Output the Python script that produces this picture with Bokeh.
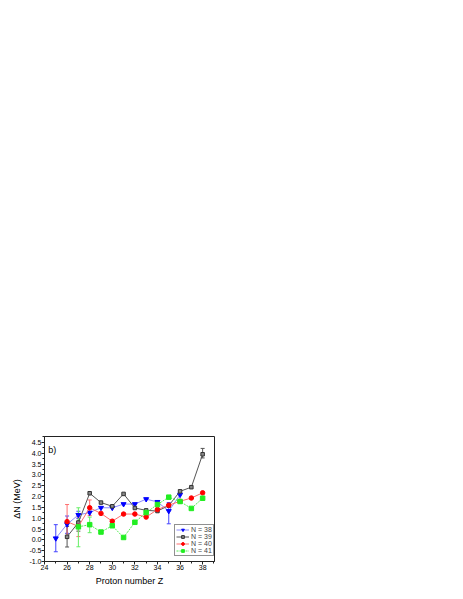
from bokeh.plotting import figure
from bokeh.models import (ColumnDataSource, Whisker, TeeHead, Label, Legend, LegendItem,
                          Range1d, FixedTicker, PrintfTickFormatter)
from bokeh.embed import file_html
from bokeh.resources import INLINE

# ---- data ----
Z38 = [25, 26, 27, 28, 29, 30, 31, 32, 33, 34, 35, 36]
D38 = [0.07, 0.72, 1.15, 1.26, 1.48, 1.48, 1.65, 1.65, 1.88, 1.75, 1.33, 2.08]
Z39 = [26, 27, 28, 29, 30, 31, 32, 33, 34, 35, 36, 37, 38]
D39 = [0.14, 0.80, 2.15, 1.72, 1.55, 2.12, 1.47, 1.36, 1.33, 1.58, 2.24, 2.43, 3.95]
Z40 = [26, 27, 28, 29, 30, 31, 32, 33, 34, 35, 36, 37, 38]
D40 = [0.84, 0.62, 1.48, 1.22, 0.86, 1.19, 1.19, 1.05, 1.40, 1.60, 1.78, 1.93, 2.17]
Z41 = [27, 28, 29, 30, 31, 32, 33, 34, 35, 36, 37, 38]
D41 = [0.60, 0.70, 0.36, 0.65, 0.11, 0.81, 1.26, 1.63, 1.97, 1.77, 1.45, 1.92]

# error bars (Z, lower, upper)
E38_Z = [25, 26, 27, 35]
E38_L = [-0.55, 0.30, 0.98, 0.74]
E38_U = [0.70, 1.10, 1.32, 1.72]
E39_Z = [26, 27, 38]
E39_L = [-0.33, 0.40, 3.78]
E39_U = [0.62, 1.15, 4.22]
E40_Z = [26, 27, 28]
E40_L = [0.07, 0.15, 1.12]
E40_U = [1.63, 1.05, 1.84]
E41_Z = [27, 28]
E41_L = [-0.32, 0.33]
E41_U = [1.48, 1.05]

LABELS = ["N = 38", "N = 39", "N = 40", "N = 41"]
X_TICKS = [24, 26, 28, 30, 32, 34, 36, 38]
X_MINOR = [25, 27, 29, 31, 33, 35, 37, 39]
Y_TICKS = [-1.0, -0.5, 0.0, 0.5, 1.0, 1.5, 2.0, 2.5, 3.0, 3.5, 4.0, 4.5]
Y_MINOR = [-0.75, -0.25, 0.25, 0.75, 1.25, 1.75, 2.25, 2.75, 3.25, 3.75, 4.25, 4.75]
X_TITLE = "Proton number Z"
Y_TITLE = "ΔN (MeV)"

FONT = "Liberation Sans"

p = figure(width=238, height=591, x_range=Range1d(24, 39.05), y_range=Range1d(-1.0, 4.77),
           output_backend="svg", toolbar_location=None,
           min_border_left=44, min_border_right=24, min_border_top=436, min_border_bottom=30)
p.grid.visible = False
p.outline_line_color = "#222222"
p.outline_line_width = 1
p.background_fill_color = "white"
p.border_fill_color = "white"

p.xaxis.ticker = FixedTicker(ticks=X_TICKS, minor_ticks=X_MINOR)
p.yaxis.ticker = FixedTicker(ticks=Y_TICKS, minor_ticks=Y_MINOR)
p.yaxis.formatter = PrintfTickFormatter(format="%.1f")
p.xaxis.axis_label = X_TITLE
p.yaxis.axis_label = Y_TITLE
for ax in (p.xaxis[0], p.yaxis[0]):
    ax.major_label_text_font = FONT
    ax.major_label_text_font_size = "7px"
    ax.major_label_text_color = "black"
    ax.major_tick_out = 3
    ax.major_tick_in = 0
    ax.minor_tick_out = 2
    ax.minor_tick_in = 0
    ax.major_label_standoff = 0
    ax.axis_line_color = "#222222"
    ax.major_tick_line_color = "#222222"
    ax.minor_tick_line_color = "#222222"
    ax.axis_label_text_font = FONT
    ax.axis_label_text_font_size = "9px"
    ax.axis_label_text_font_style = "normal"
    ax.axis_label_text_color = "black"
    ax.axis_label_standoff = 3
p.yaxis.axis_label_standoff = 4

series = [
    (Z38, D38, E38_Z, E38_L, E38_U, "#0000ff", "#0000ff", "#8c8cff", "#4444ff", "inverted_triangle", 5, "solid"),
    (Z39, D39, E39_Z, E39_L, E39_U, "#333333", "#888888", "#555555", "#555555", "square", 3.5, "solid"),
    (Z40, D40, E40_Z, E40_L, E40_U, "#ff0000", "#ff0000", "#ff6e6e", "#ff7070", "circle", 4.5, "solid"),
    (Z41, D41, E41_Z, E41_L, E41_U, "#22ee22", "#22ee22", "#55ee55", "#66ee66", "square", 4.5, "2 1"),
]

items = []
for (zs, ds, ez, el, eu, mc, fc, lc, ec, mk, ms, dash), lab in zip(series, LABELS):
    src = ColumnDataSource(dict(x=zs, y=ds))
    esrc = ColumnDataSource(dict(x=ez, lo=el, up=eu))
    w = Whisker(source=esrc, base="x", lower="lo", upper="up", dimension="height",
                line_color=ec, line_width=1,
                upper_head=TeeHead(size=4, line_color=ec, line_width=1),
                lower_head=TeeHead(size=4, line_color=ec, line_width=1))
    p.add_layout(w)
    r1 = p.line("x", "y", source=src, line_color=lc, line_width=1, line_dash=dash)
    r2 = p.scatter("x", "y", source=src, marker=mk, size=ms, fill_color=fc,
                   line_color=mc, line_width=1)
    items.append(LegendItem(label=lab, renderers=[r1, r2]))

legend = Legend(items=items, location=(130, 5), label_text_font=FONT,
                label_text_font_size="7px", label_height=7, glyph_height=7, glyph_width=13,
                label_standoff=2, spacing=0, padding=1, margin=0,
                border_line_color="#222222", border_line_width=1,
                background_fill_color="white", background_fill_alpha=1)
p.add_layout(legend)

p.add_layout(Label(x=3.8, y=111.7, x_units="screen", y_units="screen", text="b)",
                   text_font=FONT, text_font_size="9px", text_baseline="alphabetic",
                   text_color="black"))

open("out.html", "w").write(file_html(p, INLINE))
